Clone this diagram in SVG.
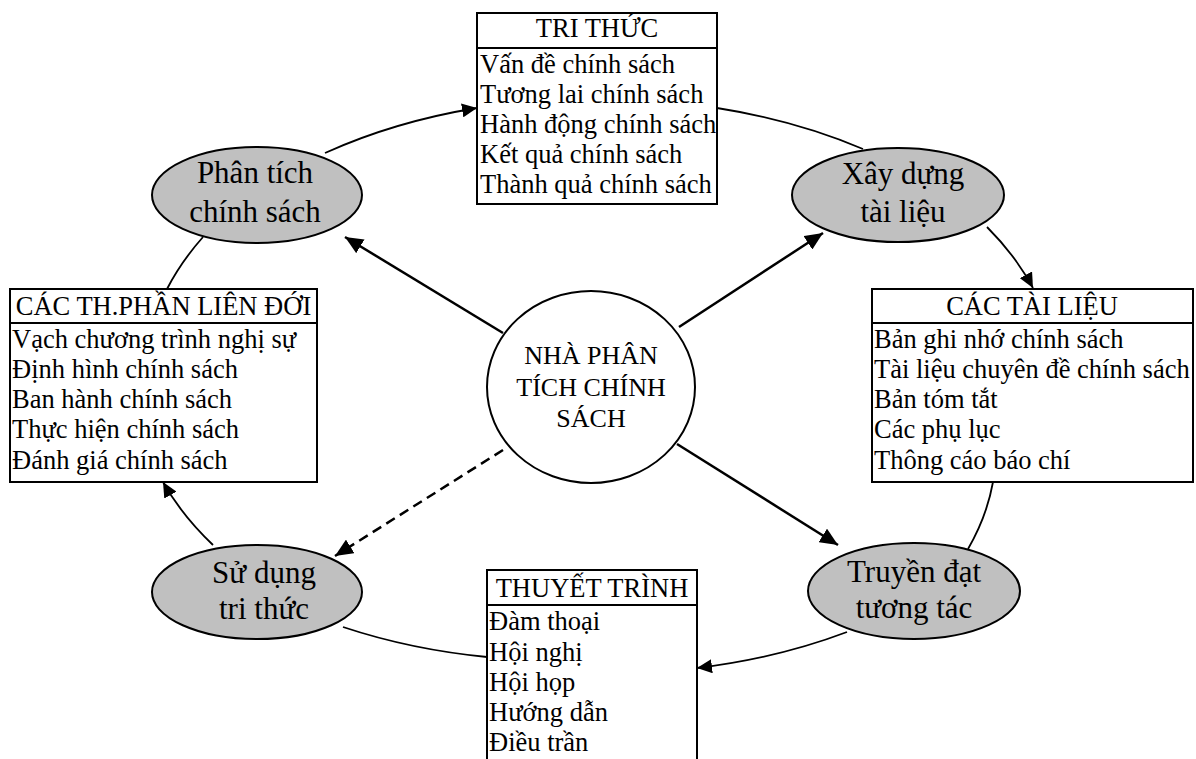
<svg xmlns="http://www.w3.org/2000/svg" width="1196" height="759" viewBox="0 0 1196 759">
<style>
.box{fill:#fff;stroke:#000;stroke-width:2}
.ell{fill:#c0c0c0;stroke:#000;stroke-width:2}
.ctr{fill:#fff;stroke:#000;stroke-width:2}
.t{font-family:"Liberation Serif","Times New Roman",serif;font-size:26.5px;fill:#000}
.h{font-family:"Liberation Serif","Times New Roman",serif;font-size:26.5px;fill:#000;text-anchor:middle}
.e{font-family:"Liberation Serif","Times New Roman",serif;font-size:31px;fill:#000;text-anchor:middle}
.c{font-family:"Liberation Serif","Times New Roman",serif;font-size:26px;fill:#000;text-anchor:middle}
.arc{fill:none;stroke:#000;stroke-width:1.8}
.ln{fill:none;stroke:#000;stroke-width:2.5}
.dash{stroke-dasharray:10 6}
</style>
<defs>
<marker id="as" markerUnits="userSpaceOnUse" markerWidth="16" markerHeight="14" refX="15" refY="7" orient="auto">
<path d="M0,0 L15,7 L0,14 Z" fill="#000"/>
</marker>
<marker id="al" markerUnits="userSpaceOnUse" markerWidth="19" markerHeight="16" refX="18" refY="8" orient="auto">
<path d="M0,0 L18,8 L0,16 Z" fill="#000"/>
</marker>
</defs>
<g id="connectors">
<path class="arc" d="M 325 153 A 460 290 0 0 1 477 108" marker-end="url(#as)"/>
<path class="arc" d="M 717 108 A 460 290 0 0 1 863 149"/>
<path class="arc" d="M 987 227 A 460 290 0 0 1 1033 288" marker-end="url(#as)"/>
<path class="arc" d="M 993 482 A 460 290 0 0 1 968 549"/>
<path class="arc" d="M 847 632 A 460 290 0 0 1 697 668" marker-end="url(#as)"/>
<path class="arc" d="M 487 657 A 460 290 0 0 1 343 627"/>
<path class="arc" d="M 213 545 A 460 290 0 0 1 163 482" marker-end="url(#as)"/>
<path class="arc" d="M 167 289 A 460 290 0 0 1 203 237"/>
<line class="ln" x1="503" y1="333" x2="345" y2="237" marker-end="url(#al)"/>
<line class="ln" x1="679" y1="327" x2="823" y2="233" marker-end="url(#al)"/>
<line class="ln" x1="677" y1="444" x2="838" y2="545" marker-end="url(#al)"/>
<line class="ln dash" x1="503" y1="450" x2="335" y2="556" marker-end="url(#al)"/>
</g>
<g id="center">
<ellipse class="ctr" cx="591" cy="387" rx="104" ry="96"/>
<text class="c" x="591" y="364">NHÀ PHÂN</text>
<text class="c" x="591" y="396">TÍCH CHÍNH</text>
<text class="c" x="591" y="427">SÁCH</text>
</g>
<g id="phan-tich">
<ellipse class="ell" cx="257" cy="195" rx="105" ry="48"/>
<text class="e" x="255" y="183">Phân tích</text>
<text class="e" x="255" y="222">chính sách</text>
</g>
<g id="xay-dung">
<ellipse class="ell" cx="898" cy="195" rx="106" ry="47"/>
<text class="e" x="903" y="184">Xây dựng</text>
<text class="e" x="903" y="222">tài liệu</text>
</g>
<g id="su-dung">
<ellipse class="ell" cx="257" cy="592" rx="105" ry="47"/>
<text class="e" x="264" y="583">Sử dụng</text>
<text class="e" x="264" y="619">tri thức</text>
</g>
<g id="truyen-dat">
<ellipse class="ell" cx="914" cy="591" rx="106" ry="48"/>
<text class="e" x="914" y="582">Truyền đạt</text>
<text class="e" x="914" y="618">tương tác</text>
</g>
<g id="tri-thuc">
<rect class="box" x="477" y="13" width="240" height="191"/>
<line x1="477" y1="48" x2="717" y2="48" stroke="#000" stroke-width="2"/>
<text class="h" x="597" y="37">TRI THỨC</text>
<text class="t" x="480" y="73">Vấn đề chính sách</text>
<text class="t" x="480" y="103">Tương lai chính sách</text>
<text class="t" x="480" y="133">Hành động chính sách</text>
<text class="t" x="480" y="163">Kết quả chính sách</text>
<text class="t" x="480" y="193">Thành quả chính sách</text>
</g>
<g id="cac-th-phan">
<rect class="box" x="10" y="289" width="307" height="193"/>
<line x1="10" y1="323" x2="317" y2="323" stroke="#000" stroke-width="2"/>
<text class="h" x="163.5" y="315">CÁC TH.PHẦN LIÊN ĐỚI</text>
<text class="t" x="12" y="348">Vạch chương trình nghị sự</text>
<text class="t" x="12" y="378">Định hình chính sách</text>
<text class="t" x="12" y="408">Ban hành chính sách</text>
<text class="t" x="12" y="438">Thực hiện chính sách</text>
<text class="t" x="12" y="469">Đánh giá chính sách</text>
</g>
<g id="cac-tai-lieu">
<rect class="box" x="872" y="289" width="321" height="193"/>
<line x1="872" y1="323" x2="1193" y2="323" stroke="#000" stroke-width="2"/>
<text class="h" x="1032" y="315">CÁC TÀI LIỆU</text>
<text class="t" x="874" y="348">Bản ghi nhớ chính sách</text>
<text class="t" x="874" y="378">Tài liệu chuyên đề chính sách</text>
<text class="t" x="874" y="408">Bản tóm tắt</text>
<text class="t" x="874" y="438">Các phụ lục</text>
<text class="t" x="874" y="469">Thông cáo báo chí</text>
</g>
<g id="thuyet-trinh">
<rect class="box" x="487" y="570" width="210" height="200"/>
<line x1="487" y1="605" x2="697" y2="605" stroke="#000" stroke-width="2"/>
<text class="h" x="592" y="597">THUYẾT TRÌNH</text>
<text class="t" x="489" y="630">Đàm thoại</text>
<text class="t" x="489" y="661">Hội nghị</text>
<text class="t" x="489" y="691">Hội họp</text>
<text class="t" x="489" y="721">Hướng dẫn</text>
<text class="t" x="489" y="751">Điều trần</text>
</g>
</svg>
